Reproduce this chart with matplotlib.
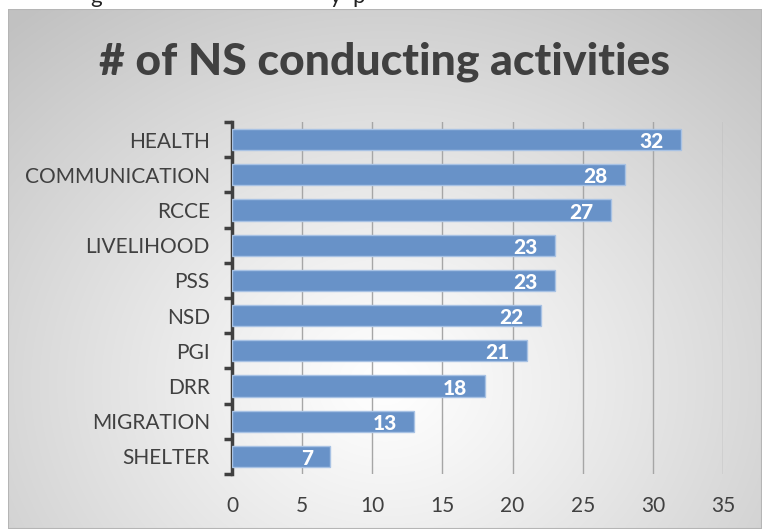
import numpy as np
import matplotlib
matplotlib.use("Agg")
import matplotlib.pyplot as plt
from matplotlib.patches import Rectangle

categories = ["HEALTH", "COMMUNICATION", "RCCE", "LIVELIHOOD", "PSS",
              "NSD", "PGI", "DRR", "MIGRATION", "SHELTER"]
values = [32, 28, 27, 23, 23, 22, 21, 18, 13, 7]
xticks = [0, 5, 10, 15, 20, 25, 30, 35]
title = "# of NS conducting activities"

W, H = 766, 529
fig = plt.figure(figsize=(W / 100, H / 100), dpi=100)
fig.patch.set_facecolor("white")

FONT = ["Lato", "DejaVu Sans"]
TXT = "#404040"

# cropped document text above the panel (only descenders visible)
fig.text(90 / W, 1 - 3 / H, "g", fontsize=16, family=FONT, color="#222222",
         va="baseline", ha="left", zorder=0)
fig.text(330 / W, 1 - 3 / H, "y  p", fontsize=16, family=FONT, color="#222222",
         va="baseline", ha="left", zorder=0)

# panel with radial gradient background
px0, py0, px1, py1 = 8, 9, 762, 529
bg = fig.add_axes([px0 / W, 1 - py1 / H, (px1 - px0) / W, (py1 - py0) / H], zorder=1)
gw, gh = px1 - px0, py1 - py0
yy, xx = np.mgrid[0:gh, 0:gw]
cx, cy = gw * 0.50, gh * 0.72
r = np.sqrt(((xx - cx) / 1.0) ** 2 + ((yy - cy) / 0.85) ** 2)
t = np.clip(r / 560.0, 0, 1) ** 1.1
val = 1.0 - t * (1.0 - 0.76)
img = np.dstack([val, val, val])
bg.imshow(img, aspect="auto", extent=[0, gw, gh, 0], interpolation="bilinear")
bg.set_xlim(0, gw)
bg.set_ylim(gh, 0)
bg.axis("off")
bg.add_patch(Rectangle((0, 0), gw, gh, fill=False, edgecolor="#b5b5b5", linewidth=1.5))

# main axes
ax_l, ax_r, ax_t, ax_b = 232, 723, 122, 474
ax = fig.add_axes([ax_l / W, 1 - ax_b / H, (ax_r - ax_l) / W, (ax_b - ax_t) / H], zorder=2)
ax.patch.set_alpha(0)

ypos = np.arange(len(categories))
ax.barh(ypos, values, height=0.6, color="#6892c8", edgecolor="#a8c2e4",
        linewidth=1.0, zorder=3)
ax.set_ylim(len(categories) - 0.5, -0.5)
ax.set_xlim(0, 35)

ax.set_xticks(xticks)
ax.set_xticklabels([str(v) for v in xticks], fontsize=15, color=TXT, family=FONT)
ax.tick_params(axis="x", length=0, pad=16)
ax.xaxis.grid(True, color="#a6a6a6", linewidth=1.0, zorder=1)
ax.set_axisbelow(True)

ax.set_yticks(ypos)
ax.set_yticklabels(categories, fontsize=15, color=TXT, family=FONT)
ax.tick_params(axis="y", which="major", length=0, pad=16)
ax.set_yticks(np.arange(-0.5, len(categories), 1.0), minor=True)
ax.tick_params(axis="y", which="minor", length=6, width=2.5, color="#404040", direction="out")

for s in ["top", "right", "bottom"]:
    ax.spines[s].set_visible(False)
ax.spines["left"].set_color("#404040")
ax.spines["left"].set_linewidth(2.5)

for y, v in zip(ypos, values):
    ax.annotate(str(v), xy=(v, y), xytext=(-12.5, -1.5), textcoords="offset points",
                ha="right", va="center", color="white", fontsize=15,
                fontweight="black", family=FONT, zorder=4)

fig.text(385 / W, 1 - 62 / H, title, ha="center", va="center", fontsize=32,
         fontweight="black", color=TXT, family=FONT, zorder=3)

fig.savefig("out.png", dpi=100, facecolor="white")
